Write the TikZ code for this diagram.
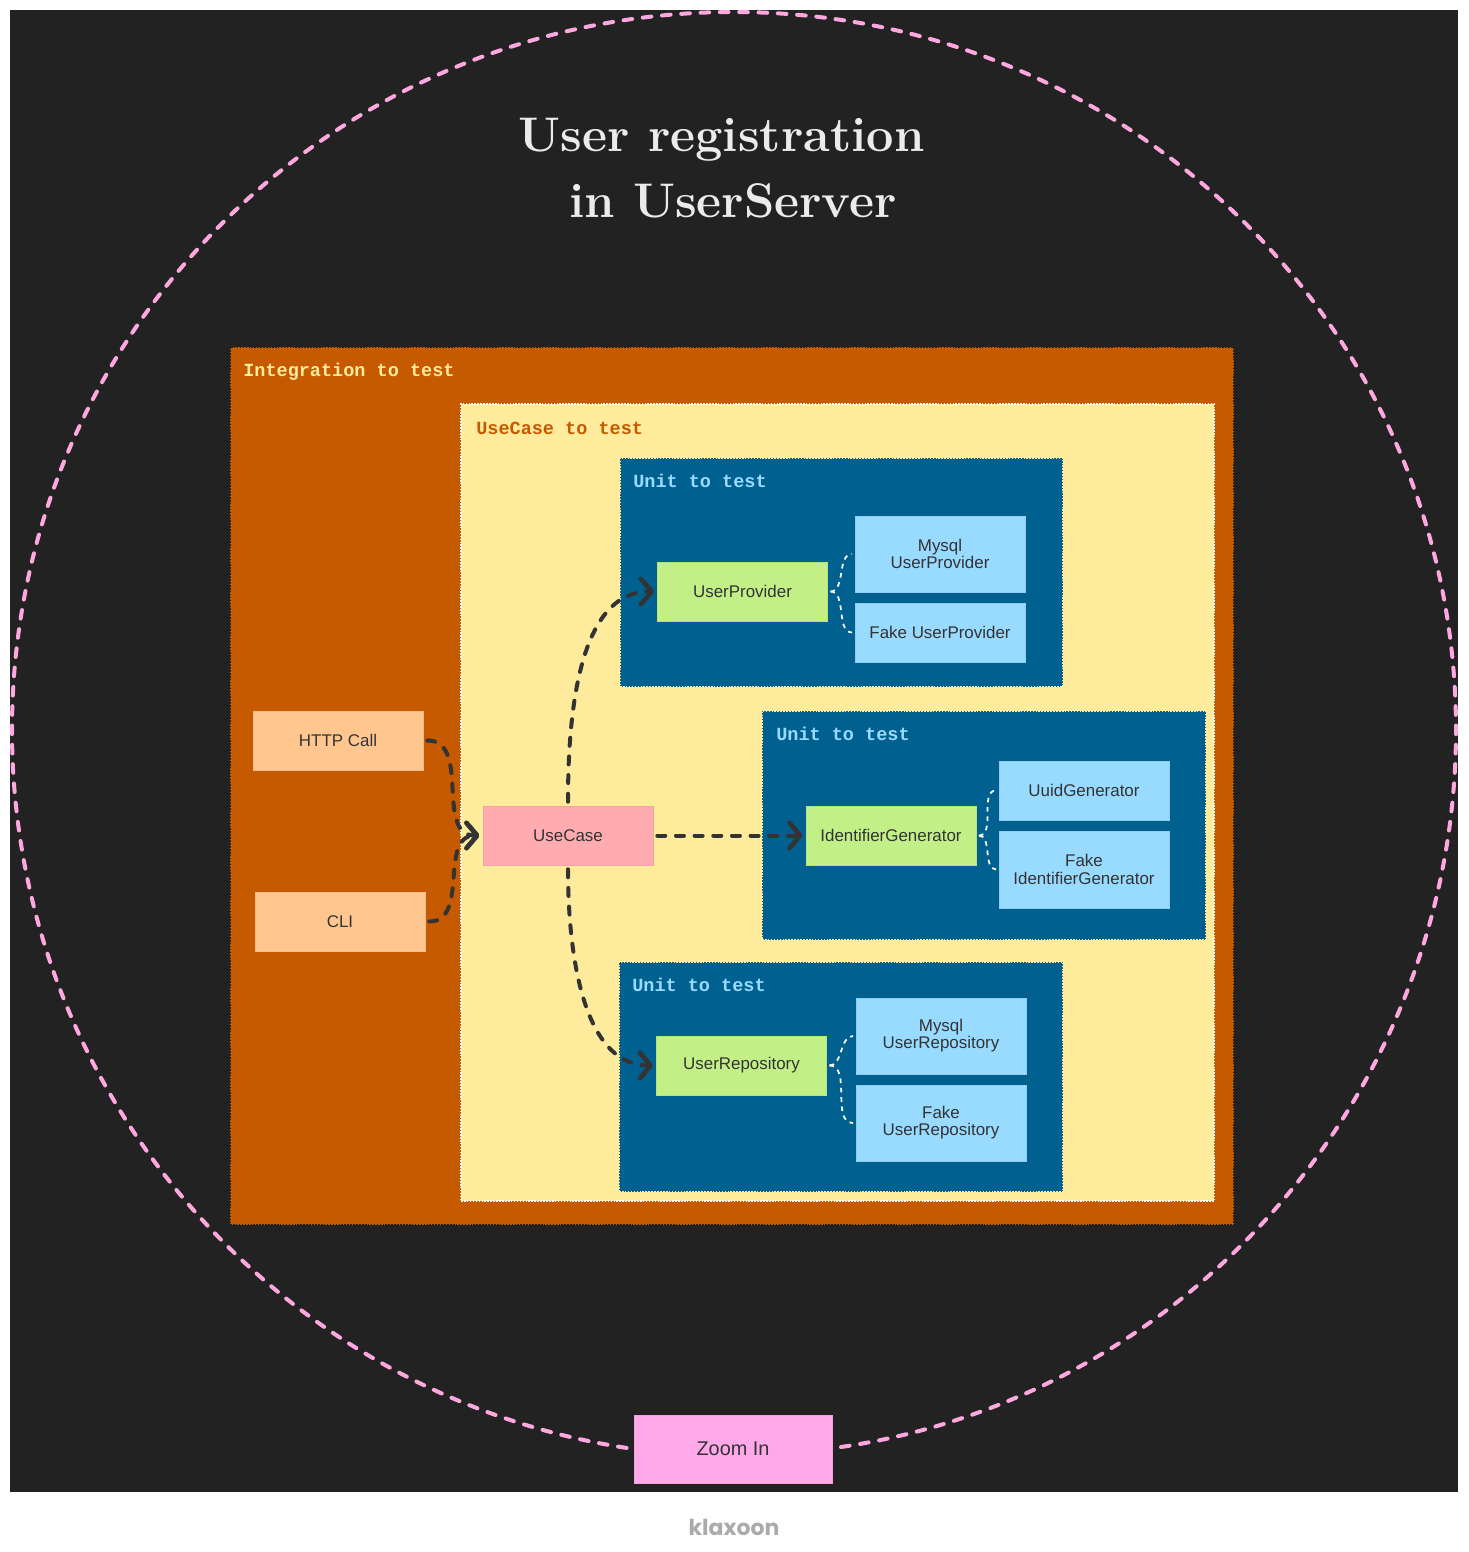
\documentclass[tikz,border=0pt]{standalone}
\usepackage{fontspec}
\usepackage{xcolor}
\usepackage{pgf,tikz}
\usetikzlibrary{arrows.meta,positioning,calc}
\newfontfamily\boxfont{Liberation Sans}
\newfontfamily\slabfont{Liberation Mono}
\newfontfamily\logofont{Poppins}
\definecolor{boarddark}{HTML}{222222}
\definecolor{ringpink}{HTML}{FFA8E0}
\definecolor{orangezone}{HTML}{C55A00}
\definecolor{creamzone}{HTML}{FFEB9C}
\definecolor{bluezone}{HTML}{00608F}
\definecolor{skybox}{HTML}{99DAFF}
\definecolor{greenbox}{HTML}{C2F086}
\definecolor{peachbox}{HTML}{FFC78F}
\definecolor{rosebox}{HTML}{FFABB0}
\definecolor{zoombox}{HTML}{FFA8EA}
\definecolor{inkdark}{HTML}{333333}
\tikzset{
  sized/.style 2 args={minimum width=#1*.75pt, minimum height=#2*.75pt},
  card/.style={rectangle, fill=#1, draw=#1!95!black, line width=.4pt, inner sep=0pt, text=inkdark,
    align=center, font=\boxfont\fontsize{12.7}{12.9}\selectfont, sized={170}{59}},
  zone/.style 2 args={rectangle, fill=#1, draw=#2, line width=1.2pt, densely dotted, inner sep=0pt},
  zonetitle/.style={anchor=west, inner sep=0pt, font=\slabfont\bfseries\fontsize{13.9}{16}\selectfont},
  flow/.style={draw=inkdark, line width=3pt, line cap=round, dash pattern=on 6pt off 8pt, shorten <=3pt},
  flowtip/.style={-{Straight Barb[length=8pt,width=19pt,line width=3.4pt,round]}, shorten >=2.5pt},
  split/.style={draw=white, line width=1.3pt, dash pattern=on 3.5pt off 3.5pt, shorten <=2pt, shorten >=2pt},
  ring/.style={draw=ringpink, line width=3pt, line cap=round, dash pattern=on 6.5pt off 8pt}
}
\begin{document}
\begin{tikzpicture}[x=.75pt,y=-.75pt]
\useasboundingbox (0,0) rectangle (1468,1552);
\fill[white] (0,0) rectangle (1468,1552);
\fill[boarddark] (10,10) rectangle (1458,1492);

% outer ring
\coordinate (ringE) at (1456,730);
\coordinate (ringN) at (733.5,12);
\coordinate (ringW) at (12,730);
\node[card=zoombox, sized={198}{68}, font=\boxfont\fontsize{14.9}{17}\selectfont] (zoom) at (733,1449) {Zoom In};
\coordinate (ringS) at (841,1447);
\draw[ring, shorten >=3pt] (ringS)
  .. controls (1194,1395) and (1456,1086) .. (ringE)
  .. controls (1456,333) and (1132,12) .. (ringN)
  .. controls (335,12) and (12,333) .. (ringW)
  .. controls (12,1086) and (273,1395) .. (zoom.west);

% title
\node[align=center, text=white!92!black, font=\bfseries\fontsize{36.5}{49.5}\selectfont] (title) at (733,168) {User registration\hspace*{17pt}\\in UserServer};

% zones
\node[zone={orangezone}{boarddark}, sized={1004}{878}] (integration) at (732,786) {};
\node[zonetitle, text=creamzone] (integrationtitle) at (243,372) {Integration to test};
\node[zone={creamzone}{white}, sized={753}{797}] (usecasezone) at (837.5,802.5) {};
\node[zonetitle, text=orangezone] (usecasetitle) at (476,428) {UseCase to test};
\node[zone={bluezone}{creamzone}, sized={443}{229}] (unitA) at (841.5,572.5) {};
\node[zonetitle, text=skybox] (unitAtitle) at (633,481) {Unit to test};
\node[zone={bluezone}{creamzone}, sized={444}{229}] (unitB) at (984,825.5) {};
\node[zonetitle, text=skybox] (unitBtitle) at (776,734) {Unit to test};
\node[zone={bluezone}{creamzone}, sized={444}{230}] (unitC) at (841,1077) {};
\node[zonetitle, text=skybox] (unitCtitle) at (632,985) {Unit to test};

% entry points
\node[card=peachbox] (http) at (338,740.5) {HTTP Call};
\node[card=peachbox] (cli) at (340,921.5) {CLI};
\node[card=rosebox] (usecase) at (568,835.5) {UseCase};

% units
\node[card=greenbox] (provider) at (742.5,591.5) {UserProvider};
\node[card=skybox, sized={170}{76}] (mysqlprovider) at (940,554) {Mysql\\UserProvider};
\node[card=skybox] (fakeprovider) at (940,632.5) {Fake UserProvider};
\node[card=greenbox] (identifier) at (891,835.5) {IdentifierGenerator};
\node[card=skybox] (uuid) at (1084,790.5) {UuidGenerator};
\node[card=skybox, sized={170}{77}] (fakeidentifier) at (1084,869.5) {Fake\\IdentifierGenerator};
\node[card=greenbox] (repository) at (741.5,1065.5) {UserRepository};
\node[card=skybox, sized={170}{76}] (mysqlrepository) at (941,1036) {Mysql\\UserRepository};
\node[card=skybox, sized={170}{76}] (fakerepository) at (941,1123) {Fake\\UserRepository};

% flows
\draw[flow, flowtip] (http.east) to[out=0, in=180, looseness=1.1] (usecase.west);
\draw[flow, flowtip] (cli.east) to[out=0, in=180, looseness=1.1] (usecase.west);
\draw[flow, flowtip] (usecase.north) to[out=90, in=180, looseness=.9] (provider.west);
\draw[flow, flowtip] (usecase.east) -- (identifier.west);
\draw[flow, flowtip] (usecase.south) to[out=-90, in=180, looseness=.9] (repository.west);

% implementations
\draw[split] (provider.east) to[out=0, in=180] (mysqlprovider.west);
\draw[split] (provider.east) to[out=0, in=180] (fakeprovider.west);
\draw[split] (identifier.east) to[out=0, in=180] (uuid.west);
\draw[split] (identifier.east) to[out=0, in=180] (fakeidentifier.west);
\draw[split] (repository.east) to[out=0, in=180] (mysqlrepository.west);
\draw[split] (repository.east) to[out=0, in=180] (fakerepository.west);

\node[text=black!33, font=\logofont\bfseries\fontsize{16.5}{20}\selectfont, inner sep=0pt] (klaxoon) at (734,1527) {klaxoon};
\end{tikzpicture}
\end{document}
